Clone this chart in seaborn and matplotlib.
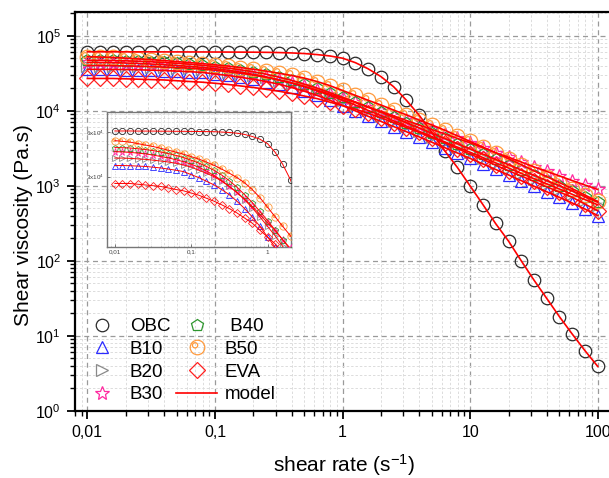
import numpy as np
import pandas as pd
import matplotlib
matplotlib.use("Agg")
import matplotlib.pyplot as plt
import seaborn as sns
from matplotlib.path import Path
from matplotlib.lines import Line2D
from matplotlib.ticker import FixedLocator, FixedFormatter, LogLocator, NullFormatter

# ---------------- data ----------------
shear_rate = [0.01, 0.0126, 0.0158, 0.02, 0.0251, 0.0316, 0.0398, 0.0501, 0.0631, 0.0794,
              0.1, 0.126, 0.158, 0.2, 0.251, 0.316, 0.398, 0.501, 0.631, 0.794,
              1, 1.26, 1.58, 2, 2.51, 3.16, 3.98, 5.01, 6.31, 7.94,
              10, 12.6, 15.8, 20, 25.1, 31.6, 39.8, 50.1, 63.1, 79.4, 100]

obc = [61000, 61000, 61000, 60900, 60900, 60900, 60800, 60800, 60700, 60700,
       60600, 60500, 60400, 60300, 60000, 59600, 58900, 57800, 56000, 53700,
       50100, 43700, 36300, 28500, 20900, 13800, 8710, 5130, 2930, 1750,
       990, 558, 314, 182, 100, 55.2, 31.4, 17.9, 10.5, 6.31, 3.89]

b10 = [35600, 35600, 35500, 35300, 35100, 34700, 34300, 33700, 33100, 32400,
       30900, 29500, 27900, 26300, 24500, 22600, 20400, 18200, 16000, 13800,
       11700, 9950, 8450, 7200, 6150, 5250, 4480, 3800, 3220, 2730,
       2310, 1950, 1650, 1390, 1170, 985, 830, 698, 587, 488, 400]

b20 = [40000, 40000, 39800, 39500, 39200, 38700, 38200, 37600, 36900, 35900,
       34700, 33100, 31600, 29900, 27900, 25700, 23400, 20900, 18400, 16000,
       13800, 11900, 10100, 8610, 7330, 6240, 5310, 4520, 3850, 3270,
       2790, 2370, 2020, 1720, 1460, 1240, 1060, 902, 767, 653, 556]

b30 = [44200, 44000, 43700, 43200, 42700, 41900, 41000, 40100, 39000, 37800,
       36300, 34700, 32700, 30500, 28200, 25700, 23400, 21100, 18800, 16600,
       14600, 12900, 11200, 9770, 8510, 7410, 6460, 5620, 4900, 4270,
       3720, 3200, 2750, 2400, 2070, 1780, 1550, 1350, 1170, 1020, 891]

b40 = [47100, 47000, 46800, 46200, 45700, 44900, 44000, 42900, 41700, 40300,
       38700, 37000, 35100, 33000, 30700, 28100, 25400, 22600, 20000, 17400,
       15100, 13000, 11200, 9550, 8130, 6920, 5890, 5010, 4270, 3630,
       3090, 2630, 2240, 1910, 1620, 1380, 1170, 1000, 851, 716, 603]

b50 = [52500, 51900, 51300, 50100, 49000, 47900, 46600, 45200, 43900, 42500,
       40900, 39400, 37600, 35700, 33700, 31600, 29500, 27200, 24500, 21600,
       18600, 16000, 13800, 11900, 10200, 8810, 7500, 6460, 5500, 4620,
       3890, 3270, 2750, 2290, 1910, 1580, 1320, 1100, 912, 750, 617]

eva = [26900, 26900, 26900, 26600, 26300, 26000, 25700, 25100, 24500, 24000,
       23200, 22400, 21400, 20400, 19300, 18200, 17000, 15700, 14500, 13000,
       11700, 10500, 9230, 8040, 6920, 5960, 5130, 4370, 3720, 3130,
       2630, 2240, 1880, 1580, 1350, 1140, 966, 822, 700, 569, 462]

sample_names = ["OBC", "B10", "B20", "B30", "B40", "B50", "EVA"]
sample_values = [obc, b10, b20, b30, b40, b50, eva]
legend_labels = ["OBC", "B10", "B20", "B30", " B40", "B50", "EVA"]

x_tick_values = [0.01, 0.1, 1, 10, 100]
x_tick_labels = ["0,01", "0,1", "1", "10", "100"]
inset_x_ticks = [0.01, 0.1, 1]
inset_x_labels = ["0,01", "0,1", "1"]
inset_y_ticks = [3e4, 6e4]
inset_y_labels = ["3x10$^4$", "6x10$^4$"]

df = pd.concat([pd.DataFrame({"rate": shear_rate, "visc": v, "sample": n})
                for n, v in zip(sample_names, sample_values)], ignore_index=True)

# ---------------- styles ----------------
plt.rcParams["font.family"] = ["Liberation Sans", "DejaVu Sans"]
plt.rcParams["mathtext.fontset"] = "custom"
plt.rcParams["mathtext.rm"] = "Liberation Sans"
plt.rcParams["mathtext.it"] = "Liberation Sans:italic"

b50_marker = Path.make_compound_path(Path.circle((0, 0), 1.0),
                                     Path.circle((-0.33, 0.3), 0.36))
styles = {
    "OBC": dict(marker="o", ms=9.0, color="#2a2a2a"),
    "B10": dict(marker="^", ms=8.0, color="#2b2bff"),
    "B20": dict(marker=">", ms=8.0, color="#8a8a8a"),
    "B30": dict(marker="*", ms=10.5, color="#ff2aa0"),
    "B40": dict(marker="p", ms=9.0, color="#2e962e"),
    "B50": dict(marker=b50_marker, ms=10.5, color="#ff9a3c"),
    "EVA": dict(marker="D", ms=7.8, color="#ff2020"),
}
model_color = "#ff0000"

fig = plt.figure(figsize=(6.09, 4.78), dpi=100)
W, H = 609.0, 478.0
ax_left, ax_right, ax_top, ax_bottom = 75.0, 614.0, 12.0, 410.7
ax = fig.add_axes([ax_left / W, 1 - ax_bottom / H, (ax_right - ax_left) / W, (ax_bottom - ax_top) / H])
ax.set_xscale("log")
ax.set_yscale("log")


def draw(axis, ms_scale, mew, lw_line, zbase):
    for n in sample_names:
        st = styles[n]
        sub = df[df["sample"] == n]
        sns.lineplot(data=sub, x="rate", y="visc", ax=axis, linestyle="",
                     marker=st["marker"], markersize=st["ms"] * ms_scale,
                     markerfacecolor="none", markeredgecolor=st["color"],
                     markeredgewidth=mew, color=st["color"], errorbar=None,
                     legend=False, zorder=zbase)
    for n in sample_names:
        sub = df[df["sample"] == n]
        sns.lineplot(data=sub, x="rate", y="visc", ax=axis, color=model_color,
                     linewidth=lw_line, errorbar=None, legend=False, zorder=zbase + 1)


draw(ax, 1.0, 0.9, 1.2, 3)

ax.set_xlim(0.008, 134)
ax.set_ylim(1, 2.07e5)

ax.xaxis.set_major_locator(FixedLocator(x_tick_values))
ax.xaxis.set_major_formatter(FixedFormatter(x_tick_labels))
ax.xaxis.set_minor_locator(LogLocator(base=10, subs=np.arange(2, 10), numticks=20))
ax.xaxis.set_minor_formatter(NullFormatter())
ax.yaxis.set_major_locator(LogLocator(base=10, numticks=10))
ax.yaxis.set_minor_locator(LogLocator(base=10, subs=np.arange(2, 10), numticks=20))
ax.yaxis.set_minor_formatter(NullFormatter())

ax.tick_params(which="major", direction="out", length=6, width=1.3, labelsize=11.5,
               top=False, right=False, pad=4, colors="black")
ax.tick_params(which="minor", direction="out", length=3.5, width=1.0, top=False, right=False)
for sp in ax.spines.values():
    sp.set_linewidth(1.6)
    sp.set_color("black")

ax.set_axisbelow(True)
ax.grid(which="major", color="#9a9a9a", linestyle=(0, (4, 3)), linewidth=0.9)
ax.grid(which="minor", color="#dcdcdc", linestyle=(0, (2.5, 2)), linewidth=0.7)

ax.set_xlabel("shear rate (s$^{-1}$)", fontsize=15)
ax.set_ylabel("Shear viscosity (Pa.s)", fontsize=15)
ax_w = ax_right - ax_left
ax_h = ax_bottom - ax_top
ax.xaxis.set_label_coords((344 - ax_left) / ax_w, (ax_bottom - 452) / ax_h)
ax.yaxis.set_label_coords((33 - ax_left) / ax_w, (ax_bottom - 225) / ax_h)

# ---------------- legend ----------------
handles = []
for n in sample_names:
    st = styles[n]
    handles.append(Line2D([], [], linestyle="", marker=st["marker"], markersize=st["ms"],
                          markerfacecolor="none", markeredgecolor=st["color"],
                          markeredgewidth=0.9))
handles.append(Line2D([], [], color=model_color, linewidth=1.2))
labels = legend_labels + ["model"]
ax.legend(handles, labels, loc="upper left", bbox_to_anchor=(81 / W, 1 - 318 / H),
          bbox_transform=fig.transFigure, frameon=False, ncol=2, fontsize=13.5,
          handlelength=2.2, handletextpad=0.4, columnspacing=0.3, labelspacing=0.3,
          borderpad=0, borderaxespad=0)

# ---------------- inset ----------------
in_l, in_r, in_t, in_b = 107.0, 291.0, 112.0, 247.0
axin = fig.add_axes([in_l / W, 1 - in_b / H, (in_r - in_l) / W, (in_b - in_t) / H])
axin.set_facecolor("none")
axin.set_xscale("log")
axin.set_yscale("log")
draw(axin, 0.5, 0.6, 0.7, 3)
axin.set_xlim(0.0079, 2.03)
axin.set_ylim(1e4, 8.2e4)
axin.xaxis.set_major_locator(FixedLocator(inset_x_ticks))
axin.xaxis.set_major_formatter(FixedFormatter(inset_x_labels))
axin.xaxis.set_minor_locator(LogLocator(base=10, subs=np.arange(2, 10), numticks=20))
axin.xaxis.set_minor_formatter(NullFormatter())
axin.yaxis.set_major_locator(FixedLocator(inset_y_ticks))
axin.yaxis.set_major_formatter(FixedFormatter(inset_y_labels))
axin.yaxis.set_minor_locator(LogLocator(base=10, subs=np.arange(1, 10), numticks=20))
axin.yaxis.set_minor_formatter(NullFormatter())
axin.tick_params(which="major", direction="in", length=2, width=0.5, labelsize=4.5,
                 pad=2, colors="#444444")
axin.tick_params(which="minor", direction="in", length=1, width=0.4, colors="#777777")
for sp in axin.spines.values():
    sp.set_linewidth(1.0)
    sp.set_color("#777777")
axin.set_axisbelow(True)
axin.grid(which="major", color="#cfcfcf", linestyle=(0, (2, 2)), linewidth=0.5)
axin.grid(which="minor", color="#e0e0e0", linestyle=(0, (1.5, 1.5)), linewidth=0.5)
axin.set_xlabel("")
axin.set_ylabel("")

fig.savefig("out.png", dpi=100)
